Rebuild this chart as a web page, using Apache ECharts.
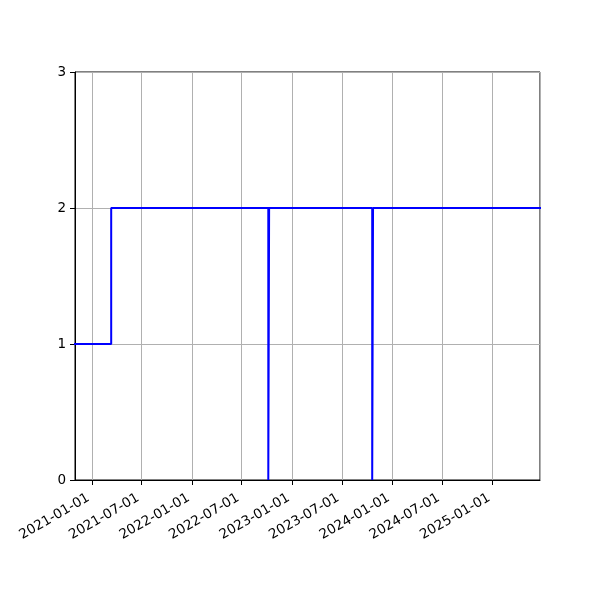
<!DOCTYPE html>
<html>
<head>
<meta charset="utf-8">
<script src="https://cdn.jsdelivr.net/npm/echarts@6/dist/echarts.min.js"></script>
<style>
  html, body { margin: 0; padding: 0; background: #fff; }
  #chart { width: 600px; height: 600px; }
</style>
</head>
<body>
<div id="chart"></div>
<script>
// step data: value holds from each date until the next one
var dates = ['2020-10-01', '2021-03-12', '2022-10-06', '2022-10-09', '2023-10-20', '2023-10-23', '2025-08-01'];
var values = [1, 2, 0, 2, 0, 2, 2];
var yTicks = [0, 1, 2, 3];

var xMin = '2020-10-31';
var xMax = '2025-06-23';

var points = [];
for (var i = 0; i < dates.length; i++) {
    points.push([dates[i], values[i]]);
}

var myChart = echarts.init(document.getElementById('chart'));

myChart.setOption({
    animation: false,
    grid: {
        left: 75,
        right: 60,
        top: 72,
        bottom: 120,
        show: true,
        borderColor: '#000',
        borderWidth: 1,
        backgroundColor: '#fff'
    },
    xAxis: {
        type: 'time',
        min: xMin,
        max: xMax,
        splitNumber: 9,
        axisLine: {show: true, lineStyle: {color: '#000', width: 1}},
        axisTick: {show: true, length: 5, lineStyle: {color: '#000'}},
        axisLabel: {
            rotate: 30,
            color: '#000',
            fontFamily: 'DejaVu Sans',
            fontSize: 13.5,
            margin: 15,
            padding: [0, 4, 0, 0],
            showMinLabel: false,
            showMaxLabel: false,
            hideOverlap: false,
            formatter: function (val) {
                return echarts.time.format(val, '{yyyy}-{MM}-{dd}', false);
            }
        },
        splitLine: {show: true, lineStyle: {color: '#b0b0b0', width: 1}}
    },
    yAxis: {
        type: 'value',
        min: yTicks[0],
        max: yTicks[yTicks.length - 1],
        interval: 1,
        axisLine: {show: true, lineStyle: {color: '#000', width: 1}},
        axisTick: {show: true, length: 5, lineStyle: {color: '#000'}},
        axisLabel: {color: '#000', fontFamily: 'DejaVu Sans', fontSize: 13.5, margin: 9},
        splitLine: {show: true, lineStyle: {color: '#b0b0b0', width: 1}}
    },
    series: [
        {
            type: 'line',
            step: 'end',
            data: points,
            showSymbol: false,
            clip: true,
            lineStyle: {color: '#0000ff', width: 2}
        }
    ]
});
</script>
</body>
</html>
